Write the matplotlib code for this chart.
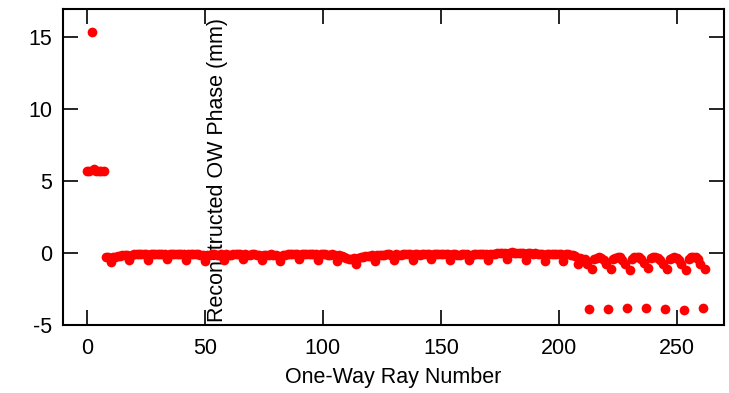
import numpy as np
import matplotlib
matplotlib.use("Agg")
import matplotlib.pyplot as plt

plt.rcParams['font.family'] = ['Liberation Sans', 'DejaVu Sans']
plt.rcParams['axes.unicode_minus'] = False

# reconstructed one-way phase (mm), ray number starts at 0
first_block = [5.7, 5.7, 15.3, 5.8, 5.7, 5.7, 5.7, 5.7]

band_a = [-0.3, -0.25, -0.6, -0.3, -0.25, -0.2, -0.2, -0.15,
          -0.15, -0.15, -0.5, -0.15, -0.1, -0.1, -0.1, -0.05,
          -0.05, -0.05, -0.5, -0.05, -0.05, -0.1, -0.05, -0.05,
          -0.1, -0.05, -0.45, -0.05, -0.05, -0.05, -0.1, -0.1,
          -0.1, -0.1, -0.5, -0.1, -0.05, -0.05, -0.1, -0.1,
          -0.15, -0.15, -0.55, -0.15, -0.15, -0.1, -0.1, -0.15,
          -0.15, -0.1, -0.5, -0.1, -0.15, -0.15, -0.1, -0.1,
          -0.1, -0.1, -0.45, -0.1, -0.15, -0.15, -0.1, -0.1]

band_b = [-0.15, -0.15, -0.5, -0.15, -0.15, -0.15, -0.1, -0.15,
          -0.15, -0.2, -0.55, -0.15, -0.15, -0.1, -0.1, -0.05,
          -0.05, -0.05, -0.45, -0.05, -0.05, -0.1, -0.1, -0.1,
          -0.1, -0.1, -0.5, -0.1, -0.1, -0.1, -0.15, -0.15,
          -0.1, -0.15, -0.55, -0.15, -0.2, -0.3, -0.35, -0.4,
          -0.4, -0.35, -0.8, -0.35, -0.3, -0.25, -0.2, -0.2,
          -0.2, -0.15, -0.55, -0.15, -0.15, -0.15, -0.15, -0.1,
          -0.1, -0.15, -0.5, -0.1, -0.15, -0.15, -0.1, -0.1,
          -0.1, -0.1, -0.5, -0.1, -0.1, -0.15, -0.1, -0.1]

band_c = [-0.05, -0.05, -0.45, -0.05, -0.1, -0.1, -0.05, -0.1,
          -0.1, -0.1, -0.5, -0.1, -0.1, -0.15, -0.15, -0.1,
          -0.1, -0.1, -0.5, -0.15, -0.1, -0.1, -0.1, -0.1,
          -0.1, -0.05, -0.5, -0.1, -0.05, -0.05, 0.0, 0.0,
          0.0, 0.0, -0.45, 0.0, 0.05, 0.0, 0.0, 0.0,
          0.0, 0.0, -0.5, 0.0, 0.0, -0.05, 0.0, -0.05,
          -0.05, -0.05, -0.55, -0.05, -0.05, -0.05, -0.05, -0.1,
          -0.05, -0.1, -0.55, -0.1, -0.1, -0.15, -0.15, -0.2]

tail = [-0.8, -0.35, -0.4, -0.45, -0.8, -3.9, -1.1, -0.4,
        -0.35, -0.3, -0.35, -0.5, -0.75, -3.9, -1.1, -0.4,
        -0.35, -0.3, -0.3, -0.5, -0.75, -3.85, -1.15, -0.4,
        -0.3, -0.3, -0.3, -0.45, -0.7, -3.85, -1.05, -0.35,
        -0.3, -0.3, -0.35, -0.5, -0.75, -3.9, -1.1, -0.4,
        -0.35, -0.3, -0.35, -0.5, -0.8, -3.95, -1.15, -0.4,
        -0.3, -0.3, -0.3, -0.45, -0.75, -3.85, -1.1]

phase = np.array(first_block + band_a + band_b + band_c + tail)
ray = np.arange(len(phase))

xticks = [0, 50, 100, 150, 200, 250]
yticks = [-5, 0, 5, 10, 15]

fig = plt.figure(figsize=(7.29, 3.93), dpi=100)
ax = fig.add_axes([0.087, 0.173, 0.906, 0.803])

ax.plot(ray, phase, 'o', color='#ff0000', ms=7, mew=0)

ax.set_xlim(-10, 270)
ax.set_ylim(-5, 16.9)
ax.set_xticks(xticks)
ax.set_yticks(yticks)

for s in ax.spines.values():
    s.set_linewidth(1.5)
ax.tick_params(direction='in', length=11, width=1.2, top=True, right=True,
               labelsize=15.5, pad=9)
ax.tick_params(axis='y', pad=8)

ax.set_xlabel('One-Way Ray Number', fontsize=15.5, labelpad=6)
ax.set_ylabel('Reconstructed OW Phase (mm)', fontsize=15.5, va='center')
ax.yaxis.set_label_coords(0.233, 0.49)

plt.savefig('out.png', dpi=100)
